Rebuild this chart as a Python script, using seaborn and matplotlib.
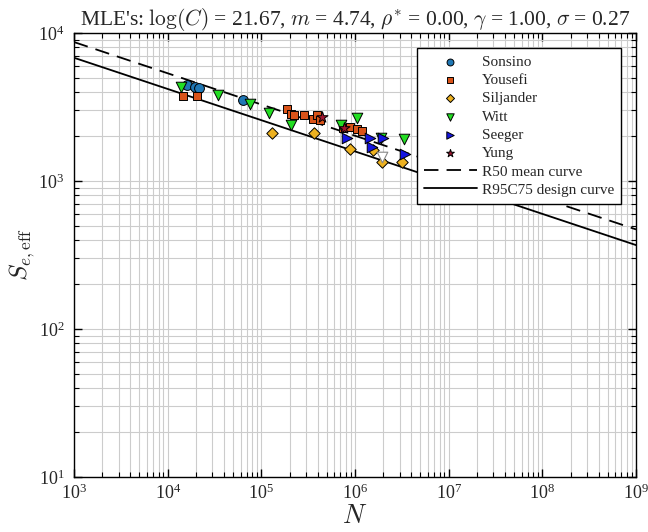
import numpy as np
import pandas as pd
import matplotlib
matplotlib.use("Agg")
import matplotlib.pyplot as plt
from matplotlib.ticker import NullFormatter
import seaborn as sns

# ---- data ----
sonsino_N = [16080, 19570, 21600, 63720]
sonsino_S = [4453, 4316, 4250, 3526]

yousefi_N = [14580, 20570, 187900, 207400, 223300, 285400, 356100, 392900, 422900, 744500, 884400, 1.050e6, 1.188e6]
yousefi_S = [3752, 3752, 3066, 2836, 2791, 2791, 2624, 2791, 2584, 2281, 2317, 2246, 2177]

siljander_N = [130000, 365000, 884400, 1.557e6, 1.943e6, 3.175e6]
siljander_S = [2110, 2110, 1645, 1620, 1344, 1344]

witt_N = [13880, 34460, 75680, 120700, 207400, 708700, 1.050e6, 1.895e6, 3.335e6]
witt_S = [4316, 3811, 3314, 2880, 2389, 2389, 2666, 1952, 1922]
witt_runout_N = [1.943e6]
witt_runout_S = [1453]

seeger_N = [821500, 1.446e6, 1.519e6, 1.991e6, 3.418e6]
seeger_S = [1952, 1952, 1697, 1952, 1522]

yung_N = [444300, 763000]
yung_S = [2706, 2281]

logC = 21.67
m = 4.74
design_offset = 0.106  # log10 shift of R95C75 curve below mean
line_N = [1e3, 1e9]

sources = ["Sonsino", "Yousefi", "Siljander", "Witt", "Seeger", "Yung"]
data_N = [sonsino_N, yousefi_N, siljander_N, witt_N, seeger_N, yung_N]
data_S = [sonsino_S, yousefi_S, siljander_S, witt_S, seeger_S, yung_S]
markers = ["o", "s", "D", "v", ">", "*"]
colors = ["#1f77b4", "#d95319", "#edb120", "#22dd22", "#1515e0", "#a2142f"]
sizes = [50, 32, 34, 58, 58, 70]

df = pd.concat([pd.DataFrame({"N": n, "S": s, "source": src})
                for n, s, src in zip(data_N, data_S, sources)], ignore_index=True)

lN = np.array(line_N, dtype=float)
mean_S = 10 ** ((logC - np.log10(lN)) / m)
design_S = mean_S * 10 ** (-design_offset)
lines = pd.DataFrame({"N": np.concatenate([lN, lN]),
                      "S": np.concatenate([mean_S, design_S]),
                      "curve": ["R50 mean curve"] * 2 + ["R95C75 design curve"] * 2})

# ---- style ----
sns.set_style("ticks")
plt.rcParams["font.family"] = ["Liberation Serif", "DejaVu Serif"]
plt.rcParams["mathtext.fontset"] = "cm"
plt.rcParams["xtick.direction"] = "in"
plt.rcParams["ytick.direction"] = "in"

fig = plt.figure(figsize=(6.48, 5.32), dpi=100)
ax = fig.add_axes([74 / 648, 1 - 477 / 532, 562 / 648, 444 / 532])

for src, mk, col, sz in zip(sources, markers, colors, sizes):
    sub = df[df["source"] == src]
    sns.scatterplot(data=sub, x="N", y="S", marker=mk, color=col, s=sz,
                    edgecolor="black", linewidth=0.7, label=src, ax=ax, zorder=3)

ax.scatter(witt_runout_N, witt_runout_S, marker="v", s=58, facecolor="white",
           edgecolor="#888888", linewidth=0.8, zorder=3)

mean_df = lines[lines["curve"] == "R50 mean curve"]
des_df = lines[lines["curve"] == "R95C75 design curve"]
ax.plot(mean_df["N"], mean_df["S"], color="black", lw=1.3, ls=(0, (8, 4.5)),
        label="R50 mean curve", zorder=2)
sns.lineplot(data=des_df, x="N", y="S", color="black", lw=1.3,
             label="R95C75 design curve", ax=ax, zorder=2)

ax.set_xscale("log")
ax.set_yscale("log")
ax.set_xlim(1e3, 1e9)
ax.set_ylim(1e1, 1e4)
ax.xaxis.set_minor_formatter(NullFormatter())
ax.yaxis.set_minor_formatter(NullFormatter())

ax.grid(True, which="both", color="#cccccc", lw=0.8)
ax.set_axisbelow(True)
ax.tick_params(which="both", top=True, right=True, labelsize=13, color="black")
ax.tick_params(which="major", length=6, width=1)
ax.tick_params(which="minor", length=3.5, width=0.8)
ax.tick_params(axis="y", which="major", pad=7)
ax.tick_params(axis="x", which="major", pad=5)
for sp in ax.spines.values():
    sp.set_color("black")
    sp.set_linewidth(1)

ax.set_xlabel(r"$N$", fontsize=19, labelpad=1)
ax.set_ylabel(r"$S_{e,\mathrm{eff}}$", fontsize=18, labelpad=1)
ax.set_title(r"MLE's: $\log(C)$ = 21.67, $m$ = 4.74, $\rho^{*}$ = 0.00, $\gamma$ = 1.00, $\sigma$ = 0.27",
             fontsize=15.5, pad=6)

leg = ax.legend(loc="upper right", fontsize=11, frameon=True, fancybox=False,
                edgecolor="black", framealpha=1, handlelength=3.5, handletextpad=0.3,
                markerscale=0.7, borderaxespad=1.0, borderpad=0.45, labelspacing=0.3)
leg.get_frame().set_linewidth(1)

fig.savefig("out.png", dpi=100)
